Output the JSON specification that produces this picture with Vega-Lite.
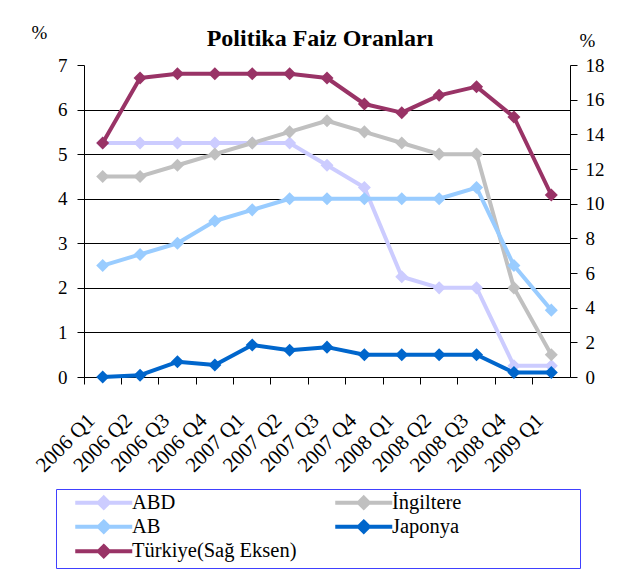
{
  "$schema": "https://vega.github.io/schema/vega-lite/v6.json",
  "autosize": "none",
  "width": 486,
  "height": 312,
  "padding": {"left": 84, "top": 65, "right": 58, "bottom": 194},
  "background": "white",
  "title": {
    "text": "Politika Faiz Oranları",
    "font": "Liberation Serif",
    "fontSize": 24,
    "fontWeight": "bold",
    "color": "black",
    "anchor": "middle",
    "frame": "group",
    "dx": -7,
    "dy": 38,
    "offset": 10
  },
  "data": {
    "values": [
      {"seri": "ABD", "donem": "2006 Q1", "deger": 5.25},
      {"seri": "ABD", "donem": "2006 Q2", "deger": 5.25},
      {"seri": "ABD", "donem": "2006 Q3", "deger": 5.25},
      {"seri": "ABD", "donem": "2006 Q4", "deger": 5.25},
      {"seri": "ABD", "donem": "2007 Q1", "deger": 5.25},
      {"seri": "ABD", "donem": "2007 Q2", "deger": 5.25},
      {"seri": "ABD", "donem": "2007 Q3", "deger": 4.75},
      {"seri": "ABD", "donem": "2007 Q4", "deger": 4.25},
      {"seri": "ABD", "donem": "2008 Q1", "deger": 2.25},
      {"seri": "ABD", "donem": "2008 Q2", "deger": 2.0},
      {"seri": "ABD", "donem": "2008 Q3", "deger": 2.0},
      {"seri": "ABD", "donem": "2008 Q4", "deger": 0.25},
      {"seri": "ABD", "donem": "2009 Q1", "deger": 0.25},
      {"seri": "İngiltere", "donem": "2006 Q1", "deger": 4.5},
      {"seri": "İngiltere", "donem": "2006 Q2", "deger": 4.5},
      {"seri": "İngiltere", "donem": "2006 Q3", "deger": 4.75},
      {"seri": "İngiltere", "donem": "2006 Q4", "deger": 5.0},
      {"seri": "İngiltere", "donem": "2007 Q1", "deger": 5.25},
      {"seri": "İngiltere", "donem": "2007 Q2", "deger": 5.5},
      {"seri": "İngiltere", "donem": "2007 Q3", "deger": 5.75},
      {"seri": "İngiltere", "donem": "2007 Q4", "deger": 5.5},
      {"seri": "İngiltere", "donem": "2008 Q1", "deger": 5.25},
      {"seri": "İngiltere", "donem": "2008 Q2", "deger": 5.0},
      {"seri": "İngiltere", "donem": "2008 Q3", "deger": 5.0},
      {"seri": "İngiltere", "donem": "2008 Q4", "deger": 2.0},
      {"seri": "İngiltere", "donem": "2009 Q1", "deger": 0.5},
      {"seri": "AB", "donem": "2006 Q1", "deger": 2.5},
      {"seri": "AB", "donem": "2006 Q2", "deger": 2.75},
      {"seri": "AB", "donem": "2006 Q3", "deger": 3.0},
      {"seri": "AB", "donem": "2006 Q4", "deger": 3.5},
      {"seri": "AB", "donem": "2007 Q1", "deger": 3.75},
      {"seri": "AB", "donem": "2007 Q2", "deger": 4.0},
      {"seri": "AB", "donem": "2007 Q3", "deger": 4.0},
      {"seri": "AB", "donem": "2007 Q4", "deger": 4.0},
      {"seri": "AB", "donem": "2008 Q1", "deger": 4.0},
      {"seri": "AB", "donem": "2008 Q2", "deger": 4.0},
      {"seri": "AB", "donem": "2008 Q3", "deger": 4.25},
      {"seri": "AB", "donem": "2008 Q4", "deger": 2.5},
      {"seri": "AB", "donem": "2009 Q1", "deger": 1.5},
      {"seri": "Japonya", "donem": "2006 Q1", "deger": 0.0},
      {"seri": "Japonya", "donem": "2006 Q2", "deger": 0.04},
      {"seri": "Japonya", "donem": "2006 Q3", "deger": 0.34},
      {"seri": "Japonya", "donem": "2006 Q4", "deger": 0.27},
      {"seri": "Japonya", "donem": "2007 Q1", "deger": 0.72},
      {"seri": "Japonya", "donem": "2007 Q2", "deger": 0.6},
      {"seri": "Japonya", "donem": "2007 Q3", "deger": 0.67},
      {"seri": "Japonya", "donem": "2007 Q4", "deger": 0.5},
      {"seri": "Japonya", "donem": "2008 Q1", "deger": 0.5},
      {"seri": "Japonya", "donem": "2008 Q2", "deger": 0.5},
      {"seri": "Japonya", "donem": "2008 Q3", "deger": 0.5},
      {"seri": "Japonya", "donem": "2008 Q4", "deger": 0.1},
      {"seri": "Japonya", "donem": "2009 Q1", "deger": 0.1},
      {"seri": "Türkiye(Sağ Eksen)", "donem": "2006 Q1", "deger": 13.5},
      {"seri": "Türkiye(Sağ Eksen)", "donem": "2006 Q2", "deger": 17.25},
      {"seri": "Türkiye(Sağ Eksen)", "donem": "2006 Q3", "deger": 17.5},
      {"seri": "Türkiye(Sağ Eksen)", "donem": "2006 Q4", "deger": 17.5},
      {"seri": "Türkiye(Sağ Eksen)", "donem": "2007 Q1", "deger": 17.5},
      {"seri": "Türkiye(Sağ Eksen)", "donem": "2007 Q2", "deger": 17.5},
      {"seri": "Türkiye(Sağ Eksen)", "donem": "2007 Q3", "deger": 17.25},
      {"seri": "Türkiye(Sağ Eksen)", "donem": "2007 Q4", "deger": 15.75},
      {"seri": "Türkiye(Sağ Eksen)", "donem": "2008 Q1", "deger": 15.25},
      {"seri": "Türkiye(Sağ Eksen)", "donem": "2008 Q2", "deger": 16.25},
      {"seri": "Türkiye(Sağ Eksen)", "donem": "2008 Q3", "deger": 16.75},
      {"seri": "Türkiye(Sağ Eksen)", "donem": "2008 Q4", "deger": 15.0},
      {"seri": "Türkiye(Sağ Eksen)", "donem": "2009 Q1", "deger": 10.5}
    ]
  },
  "encoding": {
    "x": {
      "field": "donem",
      "type": "ordinal",
      "sort": null,
      "scale": {"type": "band", "paddingInner": 0, "paddingOuter": 0},
      "axis": {
        "title": null,
        "bandPosition": 0,
        "labelAngle": -45,
        "labelAlign": "right",
        "labelBaseline": "middle",
        "labelOffset": -11,
        "labelPadding": 33,
        "labelFontSize": 21,
        "labelFont": "Liberation Serif",
        "labelColor": "black",
        "tickSize": 7,
        "tickColor": "black",
        "domainColor": "black",
        "grid": false
      }
    },
    "color": {
      "field": "seri",
      "type": "nominal",
      "scale": {
        "domain": ["ABD", "İngiltere", "AB", "Japonya", "Türkiye(Sağ Eksen)"],
        "range": ["#CCCCFF", "#C0C0C0", "#99CCFF", "#0066CC", "#993366"]
      },
      "legend": {
        "title": " ",
        "titleOrient": "right",
        "titlePadding": 116,
        "titleFontSize": 8,
        "orient": "none",
        "legendX": -28,
        "legendY": 424,
        "columns": 2,
        "direction": "horizontal",
        "gridAlign": "all",
        "columnPadding": 22,
        "rowPadding": -2.5,
        "padding": 3,
        "strokeColor": "#4040FF",
        "symbolType": "M-5.7,0H5.7M0,-1L1,0L0,1L-1,0Z",
        "symbolSize": 100,
        "symbolStrokeWidth": 4,
        "symbolOffset": 34.5,
        "labelOffset": 18,
        "labelFont": "Liberation Serif",
        "labelFontSize": 20.5,
        "labelColor": "black",
        "labelLimit": 400,
        "encode": {
          "symbols": {"update": {"fill": {"scale": "color", "field": "value"}, "fillOpacity": {"value": 1}}}
        }
      }
    }
  },
  "layer": [
    {
      "transform": [{"filter": "datum.seri != 'Türkiye(Sağ Eksen)'"}],
      "mark": {"type": "line", "strokeWidth": 4, "strokeJoin": "round", "point": {"filled": true, "shape": "diamond", "size": 170, "opacity": 1}},
      "encoding": {
        "y": {
          "field": "deger",
          "type": "quantitative",
          "scale": {"domain": [0, 7], "nice": false},
          "axis": {
            "title": "%",
            "titleAngle": 0,
            "titleX": -45,
            "titleY": -33,
            "titleAlign": "center",
            "titleBaseline": "middle",
            "titleFont": "Liberation Serif",
            "titleFontSize": 19,
            "titleFontWeight": "normal",
            "titleColor": "black",
            "values": [0, 1, 2, 3, 4, 5, 6, 7],
            "labelFont": "Liberation Serif",
            "labelFontSize": 19,
            "labelColor": "black",
            "labelPadding": 10,
            "tickSize": 7,
            "tickColor": "black",
            "domainColor": "black",
            "grid": true,
            "gridColor": "black",
            "gridWidth": 1,
            "gridOpacity": {"condition": {"test": "datum.value == 7", "value": 0}, "value": 1}
          }
        }
      }
    },
    {
      "transform": [{"filter": "datum.seri == 'Türkiye(Sağ Eksen)'"}],
      "mark": {"type": "line", "strokeWidth": 4, "strokeJoin": "round", "point": {"filled": true, "shape": "diamond", "size": 170, "opacity": 1}},
      "encoding": {
        "y": {
          "field": "deger",
          "type": "quantitative",
          "scale": {"domain": [0, 18], "nice": false},
          "axis": {
            "orient": "right",
            "title": "%",
            "titleAngle": 0,
            "titleX": 17,
            "titleY": -25,
            "titleAlign": "center",
            "titleBaseline": "middle",
            "titleFont": "Liberation Serif",
            "titleFontSize": 19,
            "titleFontWeight": "normal",
            "titleColor": "black",
            "values": [0, 2, 4, 6, 8, 10, 12, 14, 16, 18],
            "labelFont": "Liberation Serif",
            "labelFontSize": 19,
            "labelColor": "black",
            "labelPadding": 8,
            "tickSize": 7,
            "tickColor": "black",
            "domainColor": "black",
            "grid": false
          }
        }
      }
    }
  ],
  "resolve": {"scale": {"y": "independent"}},
  "config": {
    "font": "Liberation Serif",
    "view": {"stroke": null}
  }
}
